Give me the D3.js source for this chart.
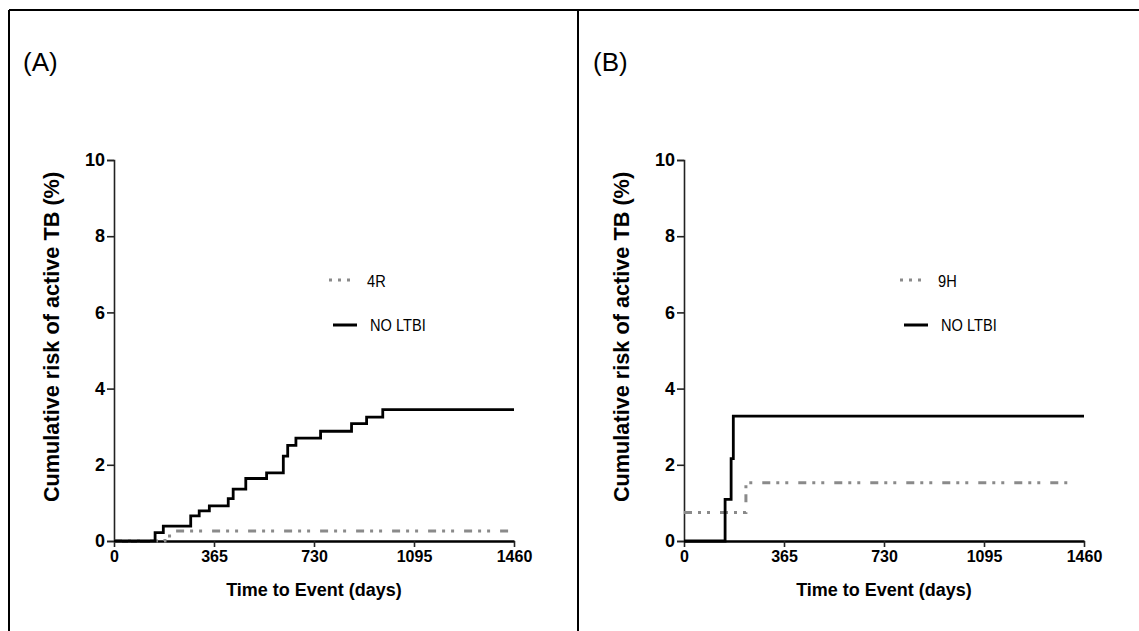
<!DOCTYPE html>
<meta charset="utf-8">
<script src="https://d3js.org/d3.v7.min.js"></script>
<style>
	body{
		margin:0;
		background:#fff;
		font-family: 'Liberation Sans', Arial, sans-serif;
	}
</style>
<div id="chart"></div>
<script>
	// panel A: 4R vs no LTBI treatment
	var daysA_none = [0,150,180,280,311,348,417,435,481,557,618,634,664,754,867,922,981,1460]
	var riskA_none = [0,0.22,0.39,0.66,0.79,0.92,1.11,1.36,1.64,1.79,2.23,2.51,2.70,2.88,3.08,3.25,3.45,3.45]
	var daysA_4R = [0,186,226,1460]
	var riskA_4R = [0,0.13,0.26,0.26]

	// panel B: 9H vs no LTBI treatment
	var daysB_none = [0,150,172,180,1460]
	var riskB_none = [0,1.09,2.16,3.28,3.28]
	var daysB_9H = [0,226,1405]
	var riskB_9H = [0.75,1.53,1.53]

	var xTicks = [0,365,730,1095,1460]
	var yTicks = [0,2,4,6,8,10]
	var xLabel = "Time to Event (days)"
	var yLabel = "Cumulative risk of active TB (%)"

	var W = 1139, H = 631
	var gray = "#8a8a8a"
	var dashDot = "8,6,3,6,3,10"

	var svg = d3.select("#chart").append("svg").attr("width",W).attr("height",H)

	// frame lines
	svg.append("line").attr("x1",9).attr("x2",9).attr("y1",10).attr("y2",H).attr("stroke","#000").attr("stroke-width",2)
	svg.append("line").attr("x1",9).attr("x2",W).attr("y1",10).attr("y2",10).attr("stroke","#000").attr("stroke-width",2)
	svg.append("line").attr("x1",578).attr("x2",578).attr("y1",10).attr("y2",H).attr("stroke","#000").attr("stroke-width",2)

	function zip(xs,ys){
		return xs.map(function(d,i){ return [d, ys[i]] })
	}

	function drawPanel(opt){
		var x = d3.scaleLinear().domain([0,1460]).range([opt.left, opt.left+400])
		var y = d3.scaleLinear().domain([0,10]).range([541,160])
		var g = svg.append("g")

		g.append("text").text(opt.tag).attr("x",opt.tagX).attr("y",71)
			.style("font-size","26px")

		// y axis
		var ya = g.append("g").attr("transform","translate("+x(0)+",0)")
			.call(d3.axisLeft(y).tickValues(yTicks).tickSize(7).tickPadding(2).tickFormat(d3.format("d")))
		ya.select(".domain").attr("stroke","#222").attr("stroke-width",1.6)
		ya.selectAll(".tick line").attr("stroke","#222").attr("stroke-width",1.6)
		ya.selectAll("text").style("font-size","18px").style("font-weight","bold")
			.attr("font-family",null).attr("fill","#000")

		// x axis
		var xa = g.append("g").attr("transform","translate(0,"+y(0)+")")
			.call(d3.axisBottom(x).tickValues(xTicks).tickSize(6).tickPadding(4).tickSizeOuter(0).tickFormat(d3.format("d")))
		xa.select(".domain").attr("stroke","#000").attr("stroke-width",2.6)
		xa.selectAll(".tick line").attr("stroke","#222").attr("stroke-width",1.6)
		xa.selectAll("text").style("font-size","16px").style("font-weight","bold")
			.attr("font-family",null).attr("fill","#000")

		g.append("text").text(xLabel).attr("x",x(730)).attr("y",596)
			.attr("text-anchor","middle").style("font-size","18px").style("font-weight","bold")
		g.append("text").text(yLabel)
			.attr("transform","translate("+(opt.left-55)+",337) rotate(-90)")
			.attr("text-anchor","middle").style("font-size","21.7px").style("font-weight","bold")

		var line = d3.line().x(function(d){ return x(d[0]) }).y(function(d){ return y(d[1]) })
			.curve(d3.curveStepAfter)

		g.append("path").datum(zip(opt.grayDays,opt.grayRisk)).attr("d",line)
			.attr("fill","none").attr("stroke",gray).attr("stroke-width",3)
			.attr("stroke-dasharray",dashDot)
		g.append("path").datum(zip(opt.blackDays,opt.blackRisk)).attr("d",line)
			.attr("fill","none").attr("stroke","#000").attr("stroke-width",2.8)

		// legend (text squeezed a bit, like the narrow face in the original)
		var lg = g.append("g")
		lg.append("line").attr("x1",opt.legX).attr("x2",opt.legX+26).attr("y1",280).attr("y2",280)
			.attr("stroke",gray).attr("stroke-width",3).attr("stroke-dasharray","3,6")
		lg.append("text").text(opt.grayName)
			.attr("transform","translate("+(opt.legX+38)+",287) scale(0.86,1)")
			.style("font-size","17px")
		lg.append("line").attr("x1",opt.legX+4).attr("x2",opt.legX+28).attr("y1",325).attr("y2",325)
			.attr("stroke","#000").attr("stroke-width",3)
		lg.append("text").text("NO LTBI")
			.attr("transform","translate("+(opt.legX+41)+",331) scale(0.86,1)")
			.style("font-size","17px")
	}

	drawPanel({left:114, tag:"(A)", tagX:23, legX:329,
		grayDays:daysA_4R, grayRisk:riskA_4R, blackDays:daysA_none, blackRisk:riskA_none, grayName:"4R"})
	drawPanel({left:684, tag:"(B)", tagX:593, legX:900,
		grayDays:daysB_9H, grayRisk:riskB_9H, blackDays:daysB_none, blackRisk:riskB_none, grayName:"9H"})
</script>
